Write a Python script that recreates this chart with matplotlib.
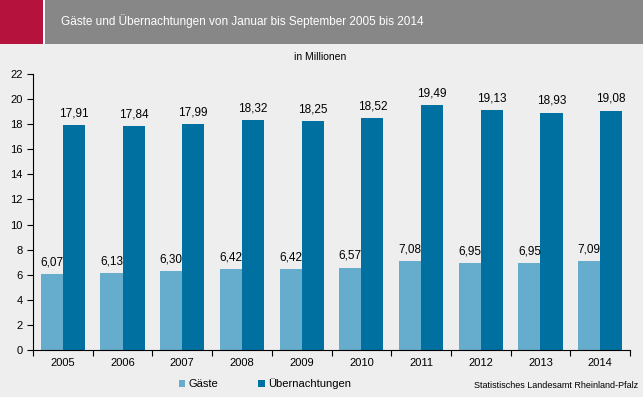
import numpy as np
import matplotlib.pyplot as plt
from matplotlib.patches import Rectangle

years = ['2005', '2006', '2007', '2008', '2009', '2010', '2011', '2012', '2013', '2014']
gaeste = [6.07, 6.13, 6.30, 6.42, 6.42, 6.57, 7.08, 6.95, 6.95, 7.09]
uebernachtungen = [17.91, 17.84, 17.99, 18.32, 18.25, 18.52, 19.49, 19.13, 18.93, 19.08]

bg = '#EDEEED'
c_light = '#66ACCC'
c_dark = '#0070A0'

plt.rcParams['font.family'] = ['Liberation Sans', 'DejaVu Sans']

fig = plt.figure(figsize=(6.43, 3.97), dpi=100, facecolor=bg)

# header band
fig.patches.append(Rectangle((0, 1 - 44 / 397), 1, 44 / 397, transform=fig.transFigure,
                             facecolor='#878787', edgecolor='none'))
fig.patches.append(Rectangle((0, 1 - 44 / 397), 43 / 643, 44 / 397, transform=fig.transFigure,
                             facecolor='#B5123E', edgecolor='none'))
fig.patches.append(Rectangle((43 / 643, 1 - 44 / 397), 2 / 643, 44 / 397, transform=fig.transFigure,
                             facecolor='white', edgecolor='none'))
fig.text(61 / 643, 1 - 21 / 397, 'Gäste und Übernachtungen von Januar bis September 2005 bis 2014',
         color='white', fontsize=8.5, va='center', ha='left')
fig.text(320 / 643, 1 - 57 / 397, 'in Millionen', fontsize=7.5, ha='center', va='center')

ax = fig.add_axes([33 / 643, 1 - 350 / 397, 597 / 643, 276 / 397])
ax.set_facecolor(bg)

x = np.arange(len(years))
w = 0.37
b1 = ax.bar(x - w / 2, gaeste, w, color=c_light, label='Gäste')
b2 = ax.bar(x + w / 2, uebernachtungen, w, color=c_dark, label='Übernachtungen')

for rect, v in zip(b1, gaeste):
    ax.text(rect.get_x() + rect.get_width() / 2, v + 0.45, f'{v:.2f}'.replace('.', ','),
            ha='center', va='bottom', fontsize=8.5)
for rect, v in zip(b2, uebernachtungen):
    ax.text(rect.get_x() + rect.get_width() / 2, v + 0.45, f'{v:.2f}'.replace('.', ','),
            ha='center', va='bottom', fontsize=8.5)

ax.set_xlim(-0.5, len(years) - 0.5)
ax.set_ylim(0, 22)
ax.set_yticks(range(0, 23, 2))
ax.set_xticks(x)
ax.set_xticklabels(years)
ax.set_xticks(np.arange(-0.5, len(years)), minor=True)
ax.tick_params(axis='x', which='major', length=0, labelsize=8, pad=6)
ax.tick_params(axis='x', which='minor', length=4, direction='out', width=0.8)
ax.tick_params(axis='y', length=4, direction='out', labelsize=8, width=0.8)
for s in ['top', 'right']:
    ax.spines[s].set_visible(False)
ax.spines['left'].set_linewidth(0.8)
ax.spines['bottom'].set_linewidth(0.8)

fig.legend(handles=[b1, b2], loc='center', bbox_to_anchor=(265 / 643, 1 - 384 / 397), ncol=2,
           frameon=False, fontsize=8, handlelength=0.6, handleheight=0.6,
           handletextpad=0.3, columnspacing=3.6)
fig.text(638 / 643, 1 - 386 / 397, 'Statistisches Landesamt Rheinland-Pfalz', fontsize=6.5,
         ha='right', va='center')

fig.savefig('out.png', dpi=100, facecolor=bg)
